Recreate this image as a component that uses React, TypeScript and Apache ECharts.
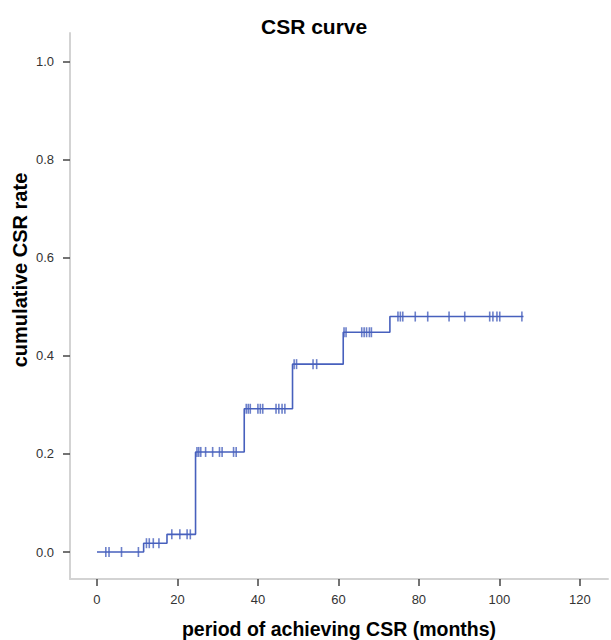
import React, { useEffect, useRef } from "react";
import * as echarts from "echarts";

// Step function (time in months, cumulative CSR rate)
const stepTimes = [0, 11.6, 17.4, 24.5, 36.6, 48.6, 61.2, 72.8, 106];
const stepRates = [0, 0.018, 0.036, 0.204, 0.292, 0.383, 0.448, 0.48, 0.48];

// Censored observations (months)
const censorTimes = [
  2.2, 3.0, 6.1, 10.3,
  12.3, 13.0, 14.0, 15.4,
  18.6, 20.6, 22.4, 23.2,
  24.85, 25.3, 25.8, 27.0, 28.75, 30.45, 31.1, 33.95, 34.6,
  37.1, 37.6, 38.1, 40.0, 40.6, 41.2, 44.5, 45.2, 46.0, 46.7,
  49.0, 49.6, 53.7, 54.6,
  61.4, 61.9, 65.8, 66.4, 67.0, 67.7, 68.2,
  74.8, 75.4, 76.0, 79.1, 82.2, 87.5, 91.4, 97.6, 98.4, 99.4, 100.1, 105.6,
];

const xTicks = [0, 20, 40, 60, 80, 100, 120];
const yTicks = [0, 0.2, 0.4, 0.6, 0.8, 1.0];

const FONT = "'Liberation Sans', Arial, sans-serif";
const BLUE = "#4760bd";

function rateAt(t: number): number {
  let r = stepRates[0];
  for (let i = 0; i < stepTimes.length; i++) {
    if (stepTimes[i] <= t) r = stepRates[i];
  }
  return r;
}

export default function App() {
  const ref = useRef<HTMLDivElement>(null);
  useEffect(() => {
    if (!ref.current) return;
    const chart = echarts.init(ref.current, undefined, { renderer: "svg" });
    chart.setOption({
      animation: false,
      backgroundColor: "#ffffff",
      title: {
        text: "CSR curve",
        left: 256,
        top: 11,
        textStyle: { fontFamily: FONT, fontSize: 21, fontWeight: "bold", color: "#000" },
      },
      grid: { left: 70, top: 33, right: 3, bottom: 61 },
      xAxis: {
        type: "value",
        min: -6.7,
        max: 127,
        axisLine: { onZero: false, lineStyle: { color: "#d3d3d3", width: 2 } },
        axisTick: { customValues: xTicks, length: 7, lineStyle: { color: "#444", width: 1.5 } },
        axisLabel: {
          customValues: xTicks,
          margin: 14,
          fontFamily: FONT,
          fontSize: 13,
          color: "#333",
        },
        splitLine: { show: false },
      },
      yAxis: {
        type: "value",
        min: -0.055,
        max: 1.058,
        axisLine: { show: true, onZero: false, lineStyle: { color: "#d3d3d3", width: 2 } },
        axisTick: { show: true, customValues: yTicks, length: 7, lineStyle: { color: "#444", width: 1.5 } },
        axisLabel: {
          customValues: yTicks,
          margin: 16,
          fontFamily: FONT,
          fontSize: 13,
          color: "#333",
          formatter: (v: number) => v.toFixed(1),
        },
        splitLine: { show: false },
      },
      graphic: [
        {
          type: "text",
          x: 20,
          y: 270,
          rotation: Math.PI / 2,
          style: {
            text: "cumulative CSR rate",
            fontFamily: FONT,
            fontSize: 20,
            fontWeight: "bold",
            fill: "#000",
            align: "center",
            verticalAlign: "middle",
          },
        },
        {
          type: "text",
          x: 339,
          y: 629,
          style: {
            text: "period of achieving CSR (months)",
            fontFamily: FONT,
            fontSize: 19.5,
            fontWeight: "bold",
            fill: "#000",
            align: "center",
            verticalAlign: "middle",
          },
        },
      ],
      series: [
        {
          type: "line",
          step: "end",
          showSymbol: false,
          data: stepTimes.map((t, i) => [t, stepRates[i]]),
          lineStyle: { color: BLUE, width: 1.6 },
          itemStyle: { color: BLUE },
          z: 2,
        },
        {
          type: "scatter",
          symbol: "rect",
          symbolSize: [1.6, 10],
          data: censorTimes.map((t) => [t, rateAt(t)]),
          itemStyle: { color: BLUE },
          z: 3,
        },
      ],
    });
    return () => chart.dispose();
  }, []);
  return (
    <div
      ref={ref}
      style={{ position: "fixed", left: 0, top: 0, width: 611, height: 640 }}
    />
  );
}
